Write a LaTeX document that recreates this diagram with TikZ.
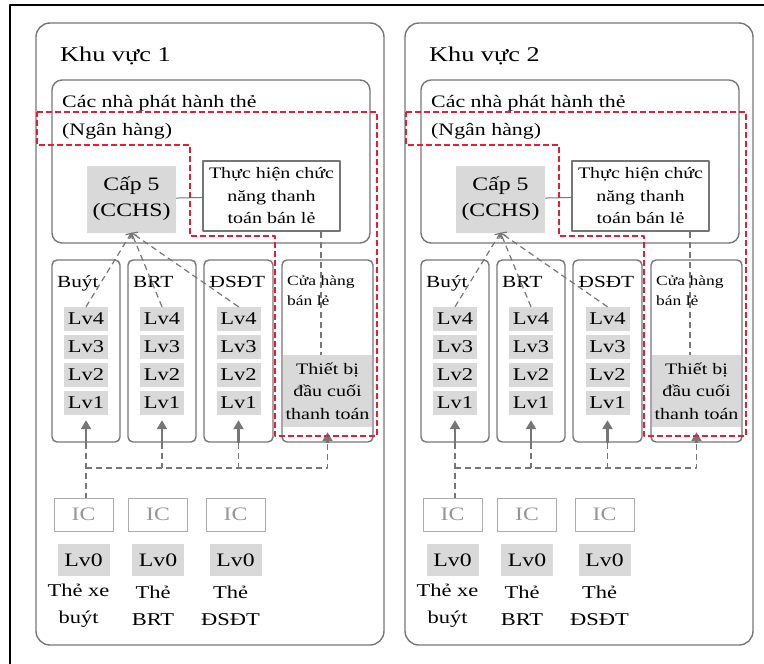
\documentclass[tikz,border=0pt]{standalone}
\usepackage{fontspec}
\setmainfont{Liberation Serif}[FakeStretch=1.25]
\usetikzlibrary{arrows.meta}
\definecolor{framegray}{RGB}{118,118,118}
\definecolor{fillgray}{RGB}{217,217,217}
\definecolor{icgray}{RGB}{150,150,150}
\definecolor{zonered}{RGB}{228,30,52}
\tikzset{
  areabox/.style={draw=framegray,line width=1.4pt,rounded corners=14pt,inner sep=0pt},
  issuerbox/.style={draw=framegray,line width=1.4pt,rounded corners=10pt,inner sep=0pt},
  colbox/.style={draw=framegray,line width=1.4pt,rounded corners=5pt,inner sep=0pt,minimum height=182pt},
  graybox/.style={fill=fillgray,inner sep=0pt,align=center},
  lvbox/.style={graybox,minimum width=44pt,minimum height=24pt,font=\fontsize{18}{22}\selectfont},
  execbox/.style={draw=framegray,line width=1.2pt,align=center,inner sep=0pt,minimum width=137pt,minimum height=70pt,font=\fontsize{16}{22.5}\selectfont},
  icbox/.style={draw=icgray!80,line width=1pt,text=icgray,minimum width=59pt,minimum height=33pt,inner sep=0pt,font=\fontsize{19}{22}\selectfont},
  lbl/.style={inner sep=0pt,anchor=base west},
  cardlbl/.style={inner sep=0pt,align=center,font=\fontsize{18}{27}\selectfont},
  link/.style={draw=framegray,line width=1.2pt,dash pattern=on 6pt off 4pt},
  uparrow/.style={draw=framegray,line width=2.2pt,shorten >=5pt,-{Triangle[length=9pt,width=10pt]}},
  redzone/.style={draw=zonered,line width=1.8pt,dash pattern=on 6pt off 3pt}
}
\begin{document}
\begin{tikzpicture}[x=1pt,y=-1pt,line join=round]
\useasboundingbox (0,0) rectangle (764,664);
\draw[line width=2.5pt] (764,5) -- (10,5) -- (10,664);
\foreach \zn/\dx in {1/0,2/369}{
\begin{scope}[xshift=\dx]
% khu vuc
\node[areabox,minimum width=348pt,minimum height=622pt] (zone\zn) at (210,334) {};
\node[lbl,font=\fontsize{21}{25}\selectfont] (title\zn) at (60,61) {Khu vực \zn};
% nha phat hanh
\node[issuerbox,minimum width=318pt,minimum height=163pt] (issuer\zn) at (211,161.5) {};
\node[lbl,font=\fontsize{17.5}{27}\selectfont] (issuername\zn) at (62,107) {Các nhà phát hành thẻ};
\node[lbl,font=\fontsize{17.5}{27}\selectfont] (bank\zn) at (62,135) {(Ngân hàng)};
\node[graybox,minimum width=89pt,minimum height=67pt,font=\fontsize{19}{26}\selectfont] (cap\zn) at (131.5,199) {Cấp 5\\(CCHS)};
\node[execbox] (exec\zn) at (271.5,196) {Thực hiện chức\\năng thanh\\toán bán lẻ};
\draw[framegray,line width=1pt] (cap\zn) -- (exec\zn);
% cac cot
\foreach \col/\cx/\w/\txt in {bus/86/68/Buýt,brt/162/68/BRT,dsdt/238.5/69/ĐSĐT}{
  \node[colbox,minimum width=\w pt] (\col\zn) at (\cx,351) {};
  \node[lbl,font=\fontsize{17}{20}\selectfont] (name-\col-\zn) at (\cx-29,287) {\txt};
  \foreach \l/\ly in {4/319,3/347,2/375,1/403}
    \node[lvbox] (lv\l-\col-\zn) at (\cx,\ly) {Lv\l};
  \draw[uparrow] (\col\zn.south) -- (lv1-\col-\zn.south);
  \draw[link,-{Straight Barb[length=4pt,width=8pt]}] (lv4-\col-\zn.north) -- (cap\zn.south);
}
\node[colbox,minimum width=91pt] (shop\zn) at (327.5,351) {};
\node[lbl,font=\fontsize{14}{20}\selectfont] (shopname\zn) at (287,285) {Cửa hàng};
\node[lbl,font=\fontsize{14}{20}\selectfont] (shopname2\zn) at (287,305) {bán lẻ};
\node[graybox,minimum width=89pt,minimum height=72pt,font=\fontsize{16}{22.5}\selectfont] (pos\zn) at (327.5,391) {Thiết bị\\đầu cuối\\thanh toán};
\draw[uparrow] (shop\zn.south) -- (pos\zn.south);
\coordinate (tap\zn) at (321,0);
\draw[link] (exec\zn.south -| tap\zn) -- (pos\zn.north -| tap\zn);
% vung do
\draw[redzone] (37,112) -- (377,112) -- (377,436) -- (275,436) -- (275,236)
  -- (190,236) -- (190,145) -- (37,145) -- cycle;
% the
\foreach \col/\ix/\lineA/\lineB in {bus/83.5/Thẻ xe/buýt,brt/158/Thẻ/BRT,dsdt/235.5/Thẻ/ĐSĐT}{
  \node[icbox] (ic-\col-\zn) at (\ix,514.5) {IC};
  \node[lvbox,minimum width=52pt,minimum height=32pt,font=\fontsize{19}{22}\selectfont] (lv0-\col-\zn) at (\ix,560) {Lv0};
  \node[cardlbl] (card-\col-\zn) at (\ix-5,606) {\lineA\\\lineB};
}
\coordinate (junction\zn) at (0,468);
\draw[link] (bus\zn.south) -- (bus\zn.south |- ic-bus-\zn.north);
\draw[link] (bus\zn.south |- junction\zn) -- (shop\zn.south |- junction\zn) -- (shop\zn.south);
\draw[link] (brt\zn.south) -- (brt\zn.south |- junction\zn);
\draw[link] (dsdt\zn.south) -- (dsdt\zn.south |- junction\zn);
\end{scope}
}
\end{tikzpicture}
\end{document}
